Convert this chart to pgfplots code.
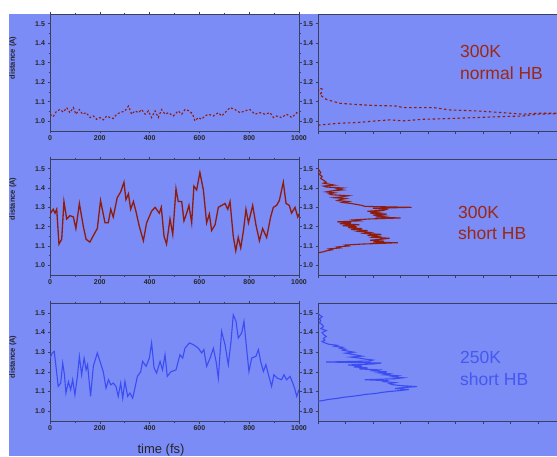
\documentclass[border=0pt]{standalone}
\usepackage{fontspec}
\setmainfont{Liberation Sans}
\usepackage{pgfplots}
\pgfplotsset{compat=1.18}
\definecolor{bgblue}{HTML}{7B8CF7}
\definecolor{hbred}{HTML}{8E1B0C}
\definecolor{hbredtext}{HTML}{9A2816}
\definecolor{hbblue}{HTML}{3B4CF2}
\definecolor{hbbluetext}{HTML}{4558F0}
\definecolor{frame}{HTML}{3A3F5C}
\pgfplotsset{
  panel/.style={
    scale only axis,
    axis background/.style={fill=bgblue},
    axis line style={draw=frame,line width=0.8pt},
    tick style={draw=frame,line width=0.6pt},
    tick align=outside,
    major tick length=2.5pt,
    minor tick length=1.5pt,
    ymin=0.95,ymax=1.55,
    ytick={1.0,1.1,1.2,1.3,1.4,1.5},
    yticklabel style={/pgf/number format/fixed,/pgf/number format/fixed zerofill,/pgf/number format/precision=1},
    xticklabel style={/pgf/number format/1000 sep={}},
    /pgf/number format/assume math mode=true,
    tick label style={font=\bfseries\fontsize{7}{8}\selectfont,text=black!85},
    xticklabel style={yshift=1pt},
    yticklabel style={xshift=1pt},
  },
  leftpanel/.style={panel,width=249pt,
    xmin=0,xmax=1000,xtick={0,200,...,1000},minor xtick={100,300,...,900},
    minor ytick={1.05,1.15,1.25,1.35,1.45}},
  rightpanel/.style={panel,width=242pt,
    xmin=0,xmax=88,xtick={0,10,...,80},xticklabels={},xtick pos=bottom,ytick pos=left},
}
\begin{document}
\begin{tikzpicture}
\useasboundingbox (0pt,0pt) rectangle (557pt,456pt);
\fill[white] (0pt,0pt) rectangle (557pt,456pt);
\fill[bgblue] (9pt,0pt) rectangle (557pt,442pt);

% row 1: 300K normal HB
\begin{axis}[leftpanel,height=117pt,at={(50pt,325pt)},anchor=south west]
\addplot[hbred,line width=1.1pt,dash pattern=on 2pt off 2pt] coordinates {
(0,1.036)(13,1.024)(27,1.053)(40,1.06)(54,1.047)(67,1.07)(80,1.044)(94,1.07)(104,1.036)(118,1.06)
(131,1.036)(145,1.044)(161,1.019)(174,1.027)(187,1.01)(201,1.019)(214,1.007)(228,1.027)(241,1.019)(254,1.014)
(268,1.036)(281,1.044)(301,1.053)(315,1.078)(328,1.036)(341,1.053)(355,1.044)(368,1.06)(382,1.036)(395,1.053)
(408,1.019)(422,1.053)(435,1.019)(448,1.06)(462,1.036)(475,1.044)(495,1.027)(515,1.053)(529,1.036)(542,1.06)
(560,1.053)(573,1.036)(582,1.002)(596,1.019)(609,1.01)(622,1.027)(636,1.036)(656,1.027)(676,1.044)(689,1.027)
(710,1.053)(723,1.07)(743,1.06)(763,1.044)(783,1.053)(803,1.06)(823,1.036)(843,1.044)(863,1.036)(884,1.044)
(897,1.019)(910,1.027)(930,1.019)(950,1.036)(971,1.019)(991,1.044)(1000,1.036)
};
\end{axis}
\begin{axis}[rightpanel,height=117pt,at={(318pt,325pt)},anchor=south west]
\addplot[hbred,line width=1.1pt,dash pattern=on 2.5pt off 2.5pt] coordinates {
(0,1.15)(0.6,1.17)(1.5,1.165)(1.2,1.145)(0.6,1.137)(3,1.112)(7.9,1.092)(13.9,1.086)(20,1.081)(28.5,1.078)
(31,1.07)(42,1.07)(48,1.058)(57.6,1.053)(67.3,1.044)(74.5,1.036)(79.4,1.041)(88,1.041)
};
\addplot[hbred,line width=1.1pt,dash pattern=on 2.5pt off 2.5pt] coordinates {
(0,0.98)(7.9,0.99)(13.9,0.993)(21.2,1.002)(26.1,1.007)(30.9,1.002)(38.2,1.01)(47.9,1.014)(57.6,1.019)
(67.3,1.024)(74.5,1.027)(79.4,1.036)(88,1.039)
};
\end{axis}

% row 2: 300K short HB
\begin{axis}[leftpanel,height=116pt,at={(50pt,181pt)},anchor=south west]
\addplot[hbred,line width=1.3pt] coordinates {
(0,1.266)(13,1.29)(20,1.27)(27,1.29)(36,1.11)(47,1.135)(56,1.33)(67,1.24)(80,1.257)(94,1.25)
(104,1.19)(118,1.32)(134,1.20)(145,1.135)(160,1.12)(181,1.17)(190,1.19)(203,1.335)(221,1.22)(234,1.22)
(244,1.29)(254,1.25)(270,1.35)(284,1.38)(297,1.43)(305,1.34)(315,1.37)(324,1.29)(335,1.33)(345,1.28)
(359,1.20)(375,1.127)(388,1.22)(408,1.28)(422,1.30)(439,1.27)(447,1.30)(458,1.15)(468,1.11)(482,1.24)
(493,1.16)(506,1.396)(515,1.33)(529,1.33)(538,1.23)(549,1.27)(558,1.31)(569,1.22)(578,1.41)(589,1.39)
(602,1.48)(616,1.39)(629,1.22)(640,1.265)(649,1.18)(663,1.21)(676,1.30)(703,1.32)(714,1.29)(723,1.33)
(736,1.15)(746,1.075)(756,1.145)(766,1.09)(777,1.18)(787,1.29)(797,1.22)(814,1.31)(827,1.21)(841,1.127)
(854,1.19)(870,1.144)(886,1.25)(897,1.30)(910,1.31)(921,1.335)(937,1.43)(948,1.32)(961,1.31)(970,1.27)
(984,1.30)(995,1.25)(1000,1.266)
};
\end{axis}
\begin{axis}[rightpanel,height=116pt,at={(318pt,181pt)},anchor=south west]
\addplot[hbred,line width=1.1pt] coordinates {
(0,1.065)(2,1.070)(3,1.075)(5,1.080)(4,1.085)(8,1.090)(7,1.095)(11,1.100)(10,1.105)(16,1.110)
(22,1.113)(29,1.117)(20,1.120)(24,1.125)(19,1.130)(23,1.135)(26,1.140)(20,1.145)(22,1.150)(18,1.155)
(23,1.160)(17,1.165)(19,1.170)(15,1.175)(18,1.180)(12,1.185)(16,1.190)(11,1.195)(14,1.200)(9,1.205)
(15,1.210)(8,1.215)(12,1.220)(7,1.225)(15,1.230)(13,1.235)(19,1.240)(30,1.245)(21,1.250)(24,1.255)
(20,1.260)(25,1.265)(19,1.270)(22,1.275)(18,1.280)(24,1.285)(25,1.290)(20,1.295)(34,1.300)(17,1.305)
(16,1.310)(14,1.315)(12,1.320)(9,1.325)(11,1.330)(7,1.335)(8,1.340)(10,1.345)(6,1.350)(9,1.355)
(11,1.360)(5,1.365)(4,1.370)(6,1.375)(3,1.380)(5,1.385)(9,1.390)(7,1.395)(9,1.400)(3,1.405)
(2,1.410)(6,1.415)(4,1.420)(2,1.425)(3,1.430)(2,1.440)(1,1.450)(1.5,1.460)(0.5,1.470)(1,1.480)
(0.5,1.490)(0,1.500)
};
\end{axis}

% row 3: 250K short HB
\begin{axis}[leftpanel,height=118pt,at={(50pt,35pt)},anchor=south west]
\addplot[hbblue,line width=1.1pt] coordinates {
(0,1.27)(9,1.296)(17,1.304)(24,1.228)(33,1.126)(43,1.143)(51,1.245)(58,1.185)(64,1.092)(74,1.15)
(83,1.109)(91,1.16)(100,1.083)(110,1.177)(118,1.279)(127,1.185)(137,1.27)(145,1.21)(151,1.236)(163,1.075)
(174,1.228)(190,1.296)(203,1.245)(214,1.20)(225,1.117)(235,1.16)(244,1.134)(254,1.143)(265,1.126)(274,1.075)
(284,1.143)(292,1.066)(301,1.151)(312,1.075)(321,1.092)(332,1.066)(341,1.117)(351,1.177)(364,1.20)(372,1.253)
(386,1.228)(399,1.27)(408,1.347)(418,1.22)(428,1.194)(442,1.253)(452,1.21)(462,1.287)(471,1.177)(485,1.20)
(506,1.21)(522,1.287)(533,1.27)(542,1.32)(560,1.347)(576,1.338)(596,1.32)(609,1.296)(618,1.313)(629,1.228)
(643,1.27)(656,1.32)(667,1.253)(676,1.168)(689,1.406)(703,1.338)(716,1.236)(727,1.355)(736,1.49)(747,1.457)
(756,1.372)(770,1.398)(779,1.457)(790,1.313)(799,1.202)(810,1.27)(827,1.279)(837,1.313)(846,1.253)(857,1.202)
(867,1.236)(881,1.168)(890,1.126)(899,1.185)(913,1.168)(930,1.16)(940,1.185)(950,1.16)(964,1.177)(975,1.143)
(984,1.109)(991,1.075)(1000,1.109)
};
\end{axis}
\begin{axis}[rightpanel,height=118pt,at={(318pt,35pt)},anchor=south west]
\addplot[hbblue,line width=1.1pt] coordinates {
(0,1.050)(2,1.055)(4,1.060)(7,1.065)(9,1.070)(12,1.075)(15,1.080)(17,1.085)(21,1.090)(23,1.095)
(26,1.100)(30,1.105)(33,1.110)(28,1.115)(31,1.120)(36,1.125)(30,1.130)(27,1.135)(26,1.140)(28,1.145)
(24,1.150)(25,1.155)(17,1.160)(28,1.165)(31,1.170)(27,1.175)(29,1.180)(24,1.185)(26,1.190)(22,1.195)
(25,1.200)(20,1.205)(22,1.210)(15,1.215)(18,1.220)(13,1.225)(16,1.230)(11,1.235)(20,1.240)(23,1.245)
(3,1.250)(19,1.255)(20,1.260)(17,1.265)(15,1.270)(12,1.275)(16,1.280)(14,1.285)(12,1.290)(10,1.295)
(13,1.300)(11,1.305)(9,1.310)(10,1.315)(8,1.320)(9,1.325)(6,1.330)(7,1.335)(4,1.340)(3,1.345)
(2,1.350)(1.5,1.355)(2.5,1.360)(2,1.370)(3,1.380)(2,1.390)(1.5,1.400)(3,1.410)(1,1.420)(2,1.430)
(1.5,1.440)(0.5,1.450)(1,1.460)(0.5,1.470)(1.5,1.480)(0.5,1.490)(0,1.500)
};
\end{axis}

% annotations
\begin{scope}[font=\fontsize{17.5}{21}\selectfont]
\node[anchor=base west,inner sep=0pt,text=hbredtext] at (460pt,398pt) {300K};
\node[anchor=base west,inner sep=0pt,text=hbredtext] at (460pt,376pt) {normal HB};
\node[anchor=base west,inner sep=0pt,text=hbredtext] at (458pt,238pt) {300K};
\node[anchor=base west,inner sep=0pt,text=hbredtext] at (458pt,217pt) {short HB};
\node[anchor=base west,inner sep=0pt,text=hbbluetext] at (460pt,93pt) {250K};
\node[anchor=base west,inner sep=0pt,text=hbbluetext] at (460pt,71pt) {short HB};
\end{scope}
\begin{scope}[font=\bfseries\fontsize{7.5}{8}\selectfont,text=black!85]
\node[rotate=90,inner sep=0pt] at (13pt,398pt) {distance (A)};
\node[rotate=90,inner sep=0pt] at (13pt,257pt) {distance (A)};
\node[rotate=90,inner sep=0pt] at (13pt,99pt) {distance (A)};
\end{scope}
\node[anchor=base,inner sep=0pt,font=\fontsize{13}{15}\selectfont,text=black!85] at (161pt,3pt) {time (fs)};
\end{tikzpicture}
\end{document}
